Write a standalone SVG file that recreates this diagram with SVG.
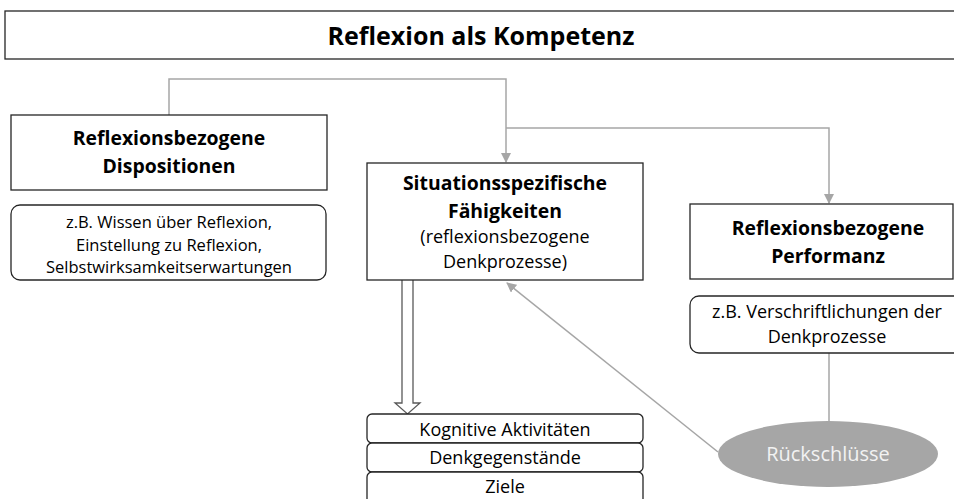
<svg xmlns="http://www.w3.org/2000/svg" width="954" height="499" viewBox="0 0 954 499">
<defs>
<style>
.box{fill:#fff;stroke:#262626;stroke-width:1.3}
.con{fill:none;stroke:#a6a6a6;stroke-width:1.5}
.t{font-family:"Open Sans","Noto Sans","Liberation Sans",sans-serif;fill:#000;text-anchor:middle}
.h{font-size:19.4px;font-weight:bold}
.r{font-size:18px}
.s{font-size:16.5px}
</style>
<marker id="ah" markerWidth="10" markerHeight="10" refX="9" refY="5" orient="auto" markerUnits="userSpaceOnUse">
<path d="M0,0 L10,5 L0,10 Z" fill="#a6a6a6"/>
</marker>
</defs>
<rect width="954" height="499" fill="#fff"/>
<g id="title">
<rect class="box" x="5" y="11" width="960" height="48"/>
<text class="t" x="481" y="45" style="font-size:25px;font-weight:bold">Reflexion als Kompetenz</text>
</g>
<g id="connectors">
<polyline class="con" points="169,115 169,79 506,79 506,162" marker-end="url(#ah)"/>
<polyline class="con" points="506,128 829,128 829,203" marker-end="url(#ah)"/>
<line class="con" x1="829" y1="353" x2="829" y2="422"/>
<line class="con" x1="718" y1="452" x2="507" y2="283" marker-end="url(#ah)"/>
<path d="M402,280 L402,403 L395,403 L407.5,414 L420,403 L413,403 L413,280" fill="#fff" stroke="#595959" stroke-width="1.3"/>
</g>
<g id="dispositionen">
<rect class="box" x="11" y="115" width="316" height="75"/>
<text class="t h" x="169" y="145">Reflexionsbezogene</text>
<text class="t h" x="169" y="173">Dispositionen</text>
</g>
<g id="dispositionen-bsp">
<rect class="box" x="11" y="205" width="315" height="75" rx="9"/>
<text class="t s" x="169" y="228">z.B. Wissen über Reflexion,</text>
<text class="t s" x="169" y="250.5">Einstellung zu Reflexion,</text>
<text class="t s" x="169" y="273">Selbstwirksamkeitserwartungen</text>
</g>
<g id="faehigkeiten">
<rect class="box" x="367" y="163" width="276" height="117"/>
<text class="t h" x="505" y="190">Situationsspezifische</text>
<text class="t h" x="505" y="218">Fähigkeiten</text>
<text class="t r" x="505" y="243">(reflexionsbezogene</text>
<text class="t r" x="505" y="268">Denkprozesse)</text>
</g>
<g id="performanz">
<rect class="box" x="690" y="204" width="263" height="75"/>
<text class="t h" x="828" y="235">Reflexionsbezogene</text>
<text class="t h" x="828" y="263">Performanz</text>
</g>
<g id="performanz-bsp">
<rect class="box" x="690" y="296" width="275" height="57" rx="9"/>
<text class="t r" x="827" y="318">z.B. Verschriftlichungen der</text>
<text class="t r" x="827" y="343">Denkprozesse</text>
</g>
<g id="kognitive">
<rect class="box" x="367" y="414" width="276" height="29" rx="5"/>
<text class="t r" x="505" y="436">Kognitive Aktivitäten</text>
</g>
<g id="denkgegenstaende">
<rect class="box" x="367" y="443" width="276" height="29" rx="5"/>
<text class="t r" x="505" y="464">Denkgegenstände</text>
</g>
<g id="ziele">
<rect class="box" x="367" y="472" width="276" height="40" rx="5"/>
<text class="t r" x="505" y="493">Ziele</text>
</g>
<g id="rueckschluesse">
<ellipse cx="828" cy="454" rx="110" ry="33" fill="#a6a6a6"/>
<text class="t" x="828" y="461" style="font-size:20px;fill:#f2f2f2">Rückschlüsse</text>
</g>
</svg>
